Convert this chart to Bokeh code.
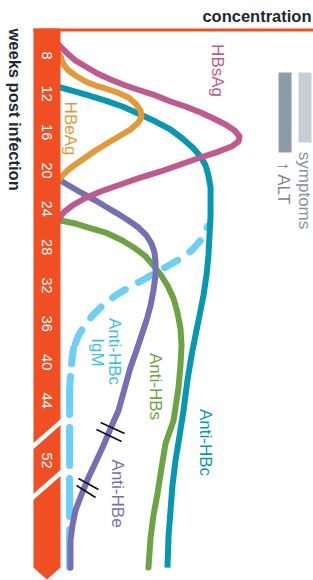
import numpy as np
from bokeh.plotting import figure
from bokeh.models import Range1d
from bokeh.core.properties import value
from bokeh.embed import file_html
from bokeh.resources import INLINE

# ---------------- data (weeks on the axis scale; 52 sits after an axis break) -------------
TICK_WEEKS = [8, 12, 16, 20, 24, 28, 32, 36, 40, 44, 52]
TICK_AXIS = [8, 12, 16, 20, 24, 28, 32, 36, 40, 44, 50.26]
BREAK_AXIS = [47.5, 52.8]  # axis breaks between 44|52 and after 52

# relative concentration (HBsAg peak = 100)
HBSAG_W = [6.75, 7.27, 7.90, 8.52, 9.15, 9.88, 10.50, 11.13, 11.65, 12.17, 12.80, 13.32, 13.95,
           14.57, 15.20, 15.83, 16.45, 16.97, 17.50, 18.02, 18.64, 19.37, 20.10, 20.73, 21.46,
           22.19, 22.92, 23.65, 24.28, 24.80, 25.43]
HBSAG_C = [-1.7, 1.1, 4.5, 8.4, 14.0, 20.8, 28.1, 36.5, 44.9, 53.4, 61.8, 70.2, 78.7,
           86.0, 92.7, 97.8, 100.6, 100.0, 96.1, 88.8, 78.7, 67.4, 56.2, 44.9, 33.7,
           22.5, 13.5, 6.7, 2.2, 0.0, -1.7]

HBEAG_W = [7.69, 8.10, 8.94, 9.57, 10.09, 10.71, 11.13, 11.44, 11.86, 12.38, 13.01, 13.74,
           14.37, 14.99, 15.72, 16.35, 17.08, 17.91, 18.64, 19.37, 20.00, 20.52, 21.04]
HBEAG_C = [-1.7, 0.0, 1.7, 4.5, 8.4, 14.0, 19.7, 25.3, 32.0, 38.2, 42.1, 44.9,
           45.5, 43.8, 39.3, 33.7, 27.0, 19.7, 14.0, 8.4, 3.9, 1.1, -1.1]

ANTIHBC_W = [11.23, 11.34, 11.76, 12.17, 12.70, 13.32, 14.16, 14.89, 15.72, 16.66, 17.60,
             18.54, 19.48, 20.52, 21.77, 23.13, 24.70, 26.78, 28.87, 30.96, 33.04, 35.13,
             37.22, 39.31, 41.91, 45.04, 47.65, 50.26, 52.87, 55.48, 58.09, 61.43]
ANTIHBC_C = [-1.7, 0.0, 8.4, 15.7, 25.3, 34.8, 44.9, 53.4, 61.8, 68.5, 74.2,
             78.7, 81.5, 83.1, 84.3, 84.3, 84.3, 83.7, 83.1, 82.0, 80.3, 78.1,
             75.8, 73.6, 71.3, 69.1, 66.9, 64.6, 62.9, 61.8, 60.7, 60.1]

# Anti-HBc IgM: rising phase (short dashes) and late plateau (long dashes)
IGM_EARLY_W = [38.05, 37.22, 36.17, 35.13, 34.09, 33.04, 32.10, 31.27, 30.54, 29.81, 29.08,
               28.24, 27.30, 25.84]
IGM_EARLY_C = [8.4, 10.1, 13.5, 18.0, 23.6, 30.9, 39.3, 47.8, 54.5, 61.8, 68.5,
               74.2, 78.7, 82.6]
IGM_LATE_W = [61.43, 56.52, 51.31, 46.09, 42.96, 41.39, 39.83, 38.57]
IGM_LATE_C = [5.1, 5.1, 5.1, 5.1, 5.1, 5.6, 6.4, 7.3]

ANTIHBE_W = [20.83, 21.04, 21.67, 22.40, 23.13, 23.76, 24.49, 25.22, 25.95, 26.78, 27.62,
             28.56, 29.60, 30.96, 32.52, 34.09, 35.65, 37.22, 38.78, 40.56, 42.75, 45.04,
             46.92, 48.91, 50.47, 52.04, 53.81, 55.48, 57.04, 58.61, 61.43]
ANTIHBE_C = [-1.7, 0.0, 5.6, 12.4, 19.7, 25.3, 32.0, 38.2, 43.8, 48.3, 51.1,
             52.8, 53.4, 53.4, 52.2, 50.6, 48.3, 45.5, 42.7, 39.3, 36.0, 32.6,
             28.1, 23.6, 19.7, 15.7, 11.8, 8.4, 6.7, 5.6, 5.6]

ANTIHBS_W = [25.22, 25.22, 25.53, 25.95, 26.47, 27.30, 28.14, 28.97, 29.91, 30.85, 32.00,
             33.36, 34.82, 36.49, 38.26, 40.35, 42.64, 44.00, 46.09, 48.49, 51.10, 53.71,
             56.00, 58.30, 61.43]
ANTIHBS_C = [-1.7, 0.0, 8.4, 15.7, 25.3, 34.8, 42.1, 47.8, 52.2, 56.2, 60.1,
             63.5, 65.7, 67.4, 68.0, 67.4, 66.3, 65.2, 63.5, 59.0, 56.7, 54.5,
             52.2, 50.6, 49.4]

# clinical windows (weeks on axis scale)
SYMPTOMS_WEEKS = (9.77, 17.08)
ALT_WEEKS = (9.77, 18.12)

# ---------------- styling ----------------
ORANGE = "#F04E23"
C_HBSAG = "#C0598F"
C_HBEAG = "#E19A37"
C_HBC = "#0797B1"
C_IGM = "#6DCFF6"
C_IGM_TXT = "#3DBFEA"
C_HBE = "#7570B3"
C_HBS = "#6CA443"
DARK = "#1D2A32"
FONT = value("Liberation Sans")
ROT = -np.pi / 2

p = figure(width=313, height=580, x_range=Range1d(-33.71, 142.13), y_range=Range1d(62.78, 2.26),
           output_backend="svg", toolbar_location=None, x_axis_location=None,
           y_axis_location=None, min_border=0)
p.grid.visible = False
p.outline_line_color = None
p.background_fill_color = "white"
p.border_fill_color = "white"

# clinical bars
p.quad(left=[122.5], right=[129.8], top=[ALT_WEEKS[0]], bottom=[ALT_WEEKS[1]],
       fill_color="#8C9DA7", line_color=None)
p.quad(left=[133.7], right=[141.0], top=[SYMPTOMS_WEEKS[0]], bottom=[SYMPTOMS_WEEKS[1]],
       fill_color="#C6CED4", line_color=None)

# curves
lw = 6
p.line(IGM_EARLY_C, IGM_EARLY_W, line_color=C_IGM, line_width=7, line_dash="15 15",
       line_cap="round", line_join="round")
p.line(IGM_LATE_C, IGM_LATE_W, line_color=C_IGM, line_width=7, line_dash="38 13",
       line_cap="round", line_join="round")
p.line(ANTIHBS_C, ANTIHBS_W, line_color=C_HBS, line_width=lw, line_cap="round", line_join="round")
p.line(ANTIHBC_C, ANTIHBC_W, line_color=C_HBC, line_width=lw, line_cap="butt", line_join="round")
p.line(ANTIHBE_C, ANTIHBE_W, line_color=C_HBE, line_width=lw, line_cap="round", line_join="round")
p.line(HBSAG_C, HBSAG_W, line_color=C_HBSAG, line_width=lw, line_cap="round", line_join="round")
p.line(HBEAG_C, HBEAG_W, line_color=C_HBEAG, line_width=lw, line_cap="round", line_join="round")

# break marks on the Anti-HBe curve
p.segment(x0=[22.5, 20.2, 10.1, 9.0], y0=[46.30, 47.03, 52.14, 52.87],
          x1=[36.0, 34.3, 21.3, 19.7], y1=[47.44, 48.28, 53.29, 54.12],
          line_color="#111111", line_width=1.6)

# time bar (axis band) with arrow tip and top concentration rule
p.patch(x=[-15.2, 0, 0, -7.6, -15.2], y=[5.18, 5.18, 61.43, 62.68, 61.43],
        fill_color=ORANGE, line_color=None)
p.quad(left=[-15.2], right=[142.1], top=[5.18], bottom=[5.50], fill_color=ORANGE, line_color=None)
# axis break slashes
for b in BREAK_AXIS:
    p.segment(x0=[-16.5], y0=[b + 1.45], x1=[1.3], y1=[b - 1.45], line_color="white", line_width=4.5)

# tick labels
p.text(x=[-7.6] * len(TICK_AXIS), y=TICK_AXIS, text=[str(t) for t in TICK_WEEKS], angle=ROT,
       text_font=FONT, text_font_size="14.5px", text_color="white",
       text_align="center", text_baseline="middle")

# axis titles
p.text(x=[-25.3], y=[5.18], text=["weeks post infection"], angle=ROT, text_font=FONT,
       text_font_size="16.5px", text_font_style="bold", text_color=DARK,
       text_align="left", text_baseline="middle")
p.text(x=[141.0], y=[3.85], text=["concentration"], text_font=FONT, text_font_size="16.5px",
       text_font_style="bold", text_color=DARK, text_align="right", text_baseline="middle")

# series labels
def lab(x, y, t, col):
    p.text(x=[x], y=[y], text=[t], angle=ROT, text_font=FONT, text_font_size="17px",
           text_color=col, text_align="center", text_baseline="middle")

lab(88.2, 9.57, "HBsAg", C_HBSAG)
lab(5.6, 15.62, "HBeAg", C_HBEAG)
lab(30.3, 38.89, "Anti-HBc", C_IGM_TXT)
lab(20.8, 38.99, "IgM", C_IGM_TXT)
lab(53.4, 42.54, "Anti-HBs", C_HBS)
lab(81.5, 48.38, "Anti-HBc", C_HBC)
lab(32.0, 53.71, "Anti-HBe", C_HBE)
lab(137.1, 22.09, "symptoms", "#8593A0")
lab(125.3, 21.36, "↑ ALT", "#7A8690")

html = file_html(p, INLINE)
open("out.html", "w").write(html)
